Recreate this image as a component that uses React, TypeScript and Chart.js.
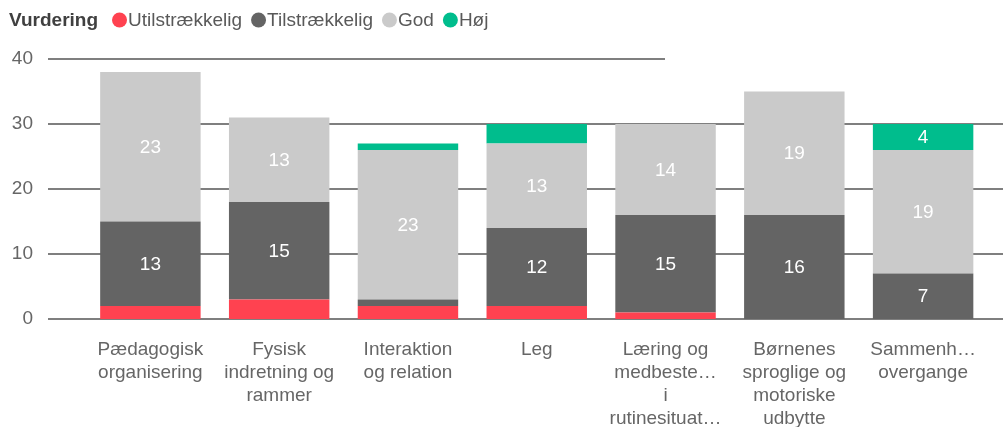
import React, { useEffect, useRef } from "react";
import { Chart, registerables } from "chart.js";
Chart.register(...registerables);

const categories: string[][] = [
  ["Pædagogisk", "organisering"],
  ["Fysisk", "indretning og", "rammer"],
  ["Interaktion", "og relation"],
  ["Leg"],
  ["Læring og", "medbeste…", "i", "rutinesituat…"],
  ["Børnenes", "sproglige og", "motoriske", "udbytte"],
  ["Sammenh…", "overgange"],
];
const legendTitle = "Vurdering";
const seriesNames = ["Utilstrækkelig", "Tilstrækkelig", "God", "Høj"];
const utilstraekkelig = [2, 3, 2, 2, 1, 0, 0];
const tilstraekkelig = [13, 15, 1, 12, 15, 16, 7];
const god = [23, 13, 23, 13, 14, 19, 19];
const hoej = [0, 0, 1, 3, 0, 0, 4];
const yTicks = [0, 10, 20, 30, 40];
const seriesColors = ["#FF4250", "#646464", "#CACACA", "#00BD8D"];

const FONT = "'Liberation Sans', Arial, sans-serif";

const gridPlugin = {
  id: "customGrid",
  beforeDatasetsDraw(chart: any) {
    const { ctx } = chart;
    const y = chart.scales.y;
    ctx.save();
    ctx.strokeStyle = "#7F7F7F";
    ctx.lineWidth = 2;
    yTicks.forEach((v) => {
      const py = Math.round(y.getPixelForValue(v));
      const x0 = 48;
      const x1 = v === 40 ? 665 : 1003;
      ctx.beginPath();
      ctx.moveTo(x0, py);
      ctx.lineTo(x1, py);
      ctx.stroke();
    });
    ctx.restore();
  },
};

const labelPlugin = {
  id: "segLabels",
  afterDatasetsDraw(chart: any) {
    const { ctx } = chart;
    ctx.save();
    ctx.font = `19px ${FONT}`;
    ctx.fillStyle = "#FFFFFF";
    ctx.textAlign = "center";
    ctx.textBaseline = "middle";
    chart.data.datasets.forEach((ds: any, i: number) => {
      const meta = chart.getDatasetMeta(i);
      meta.data.forEach((bar: any, j: number) => {
        const v = ds.data[j];
        if (v >= 4) {
          ctx.fillText(String(v), bar.x, (bar.y + bar.base) / 2 + 1);
        }
      });
    });
    ctx.restore();
  },
};

const legendPlugin = {
  id: "customLegend",
  afterDraw(chart: any) {
    const { ctx } = chart;
    ctx.save();
    ctx.textBaseline = "middle";
    ctx.textAlign = "left";
    const cy = 21;
    let x = 9;
    ctx.font = `bold 19px ${FONT}`;
    ctx.fillStyle = "#404040";
    ctx.fillText(legendTitle, x, cy);
    x += ctx.measureText(legendTitle).width + 14;
    ctx.font = `19px ${FONT}`;
    seriesNames.forEach((name, i) => {
      ctx.fillStyle = seriesColors[i];
      ctx.beginPath();
      ctx.arc(x + 7.5, cy - 1, 7.5, 0, Math.PI * 2);
      ctx.fill();
      x += 16;
      ctx.fillStyle = "#595959";
      ctx.fillText(name, x, cy);
      x += ctx.measureText(name).width + 9;
    });
    ctx.restore();
  },
};

export default function App() {
  const ref = useRef<HTMLCanvasElement>(null);
  useEffect(() => {
    if (!ref.current) return;
    const series = [utilstraekkelig, tilstraekkelig, god, hoej];
    const chart = new Chart(ref.current, {
      type: "bar",
      data: {
        labels: categories,
        datasets: series.map((d, i) => ({
          label: seriesNames[i],
          data: d,
          backgroundColor: seriesColors[i],
          borderWidth: 0,
          barPercentage: 0.78,
          categoryPercentage: 1,
        })),
      },
      options: {
        animation: false,
        responsive: false,
        layout: { padding: { top: 59, left: 0, right: 15.5, bottom: 0 } },
        plugins: {
          legend: { display: false },
          tooltip: { enabled: false },
        },
        scales: {
          x: {
            stacked: true,
            grid: { display: false },
            border: { display: false },
            ticks: {
              autoSkip: false,
              maxRotation: 0,
              minRotation: 0,
              color: "#666666",
              padding: 11,
              font: { family: FONT, size: 19, lineHeight: 23 / 19 },
            },
            afterFit(scale: any) {
              scale.height = 108;
              scale.paddingLeft = 0;
              scale.paddingRight = 0;
            },
          },
          y: {
            stacked: true,
            min: 0,
            max: 40,
            grid: { display: false, drawTicks: false },
            border: { display: false },
            ticks: {
              stepSize: 10,
              color: "#666666",
              padding: 53,
              font: { family: FONT, size: 19 },
            },
            afterFit(scale: any) {
              scale.width = 86;
              scale.paddingTop = 0;
              scale.paddingBottom = 0;
            },
          },
        },
      },
      plugins: [gridPlugin, labelPlugin, legendPlugin],
    });
    return () => chart.destroy();
  }, []);
  return (
    <div style={{ position: "absolute", left: 0, top: 0, width: 1003, height: 427, background: "#fff" }}>
      <canvas ref={ref} width={1003} height={427} />
    </div>
  );
}
